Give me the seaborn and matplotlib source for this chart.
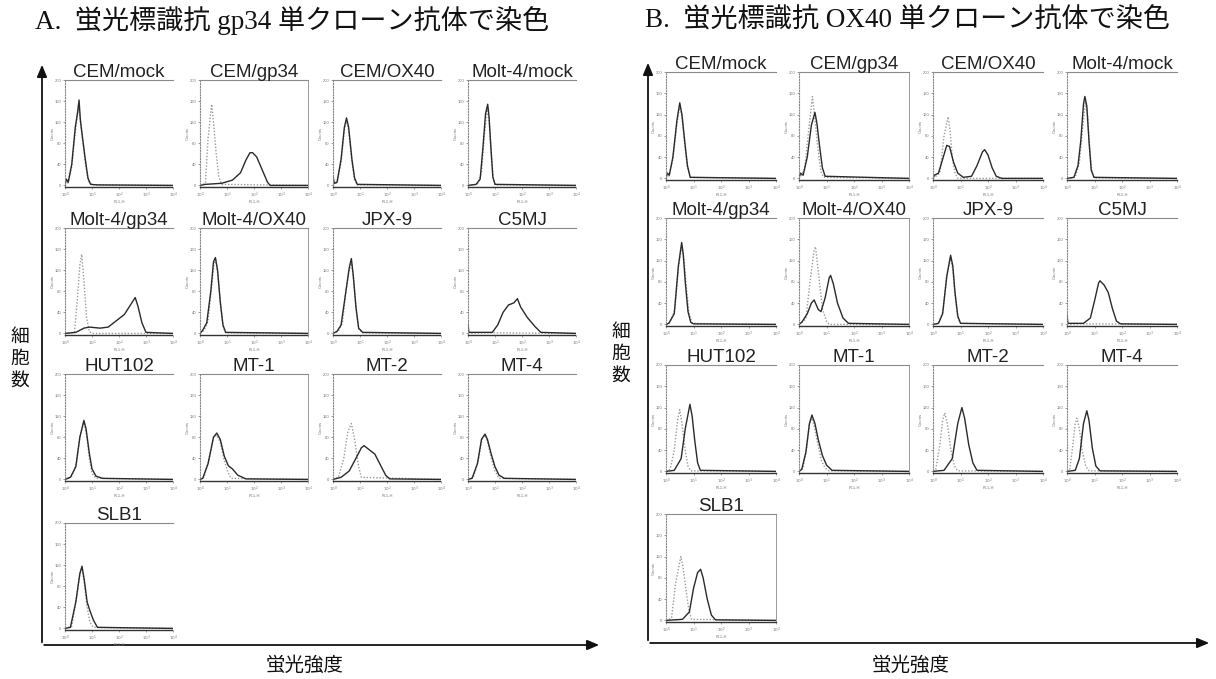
import matplotlib
matplotlib.use("Agg")
import matplotlib.pyplot as plt
import seaborn as sns
import pandas as pd

sns.set_theme(style="white")
plt.rcParams['font.family'] = ['Liberation Sans', 'Noto Sans CJK JP', 'DejaVu Sans']

# ---------------- data (x = log10 fluorescence, y = % of axis height) ----------------
titles = ["CEM/mock", "CEM/gp34", "CEM/OX40", "Molt-4/mock",
          "Molt-4/gp34", "Molt-4/OX40", "JPX-9", "C5MJ",
          "HUT102", "MT-1", "MT-2", "MT-4", "SLB1"]

panel_titles = ["A.  蛍光標識抗 gp34 単クローン抗体で染色",
                "B.  蛍光標識抗 OX40 単クローン抗体で染色"]
y_label = "細\n胞\n数"
x_label = "蛍光強度"
x_tick_labels = ["$10^0$", "$10^1$", "$10^2$", "$10^3$", "$10^4$"]
y_tick_labels = ["0", "40", "80", "120", "160", "200"]

a_stained = [
    [(0, 0), (0.05, 6), (0.12, 3), (0.25, 20), (0.38, 55), (0.47, 70), (0.52, 81), (0.57, 62), (0.65, 45), (0.75, 25), (0.85, 7), (0.95, 1), (1.2, 0.5), (4, 0)],
    [(0, 0), (0.2, 1), (0.8, 2), (1.2, 5), (1.5, 12), (1.7, 24), (1.85, 31), (1.95, 31), (2.1, 27), (2.3, 15), (2.5, 3), (2.6, 0), (4, 0)],
    [(0, 8), (0.05, 2), (0.15, 3), (0.3, 25), (0.42, 55), (0.5, 64), (0.58, 55), (0.7, 25), (0.8, 7), (0.9, 1), (4, 0)],
    [(0, 0), (0.3, 1), (0.45, 6), (0.55, 35), (0.65, 68), (0.73, 77), (0.78, 65), (0.85, 35), (0.92, 8), (1.0, 1), (4, 0)],
    [(0, 0), (0.4, 1), (0.7, 5), (0.9, 6), (1.3, 5), (1.6, 6), (1.9, 12), (2.2, 18), (2.45, 28), (2.6, 34), (2.7, 26), (2.85, 10), (3.0, 1), (4, 0)],
    [(0, 0), (0.1, 3), (0.25, 10), (0.4, 40), (0.5, 68), (0.57, 72), (0.65, 60), (0.75, 30), (0.85, 8), (0.95, 1), (4, 0)],
    [(0, 0), (0.15, 2), (0.3, 8), (0.45, 35), (0.6, 62), (0.68, 71), (0.75, 55), (0.85, 25), (0.95, 5), (1.1, 1), (4, 0)],
    [(0, 10), (0.03, 1), (0.9, 1), (1.1, 8), (1.3, 20), (1.5, 27), (1.7, 29), (1.83, 33), (1.95, 25), (2.2, 15), (2.5, 6), (2.7, 1), (4, 0)],
    [(0, 0), (0.2, 2), (0.4, 12), (0.55, 40), (0.7, 56), (0.78, 48), (0.9, 25), (1.0, 10), (1.15, 3), (1.4, 1), (4, 0)],
    [(0, 0), (0.1, 1), (0.3, 15), (0.5, 40), (0.62, 44), (0.75, 38), (0.9, 22), (1.05, 13), (1.2, 10), (1.4, 4), (1.7, 0.5), (4, 0)],
    [(0, 0), (0.3, 2), (0.6, 8), (0.85, 20), (1.05, 30), (1.15, 32), (1.35, 28), (1.55, 24), (1.75, 14), (1.95, 4), (2.1, 0.5), (4, 0)],
    [(0, 0), (0.15, 1), (0.35, 15), (0.5, 38), (0.63, 43), (0.72, 38), (0.85, 25), (1.0, 12), (1.15, 4), (1.35, 1), (4, 0)],
    [(0, 0), (0.2, 1), (0.4, 25), (0.55, 52), (0.63, 59), (0.72, 45), (0.82, 25), (0.92, 17), (1.05, 8), (1.2, 1), (4, 0)],
]
a_control = [
    [(0, 0), (0.1, 2), (0.25, 18), (0.38, 50), (0.5, 75), (0.57, 60), (0.67, 40), (0.77, 18), (0.87, 4), (1.0, 0.5), (4, 0)],
    [(0, 0), (0.2, 2), (0.3, 45), (0.43, 77), (0.5, 60), (0.6, 30), (0.7, 8), (0.8, 1), (4, 0)],
    [(0, 0), (0.15, 3), (0.3, 22), (0.42, 52), (0.5, 62), (0.58, 52), (0.7, 22), (0.8, 5), (0.9, 0.5), (4, 0)],
    [(0, 0), (0.35, 1), (0.5, 12), (0.6, 45), (0.7, 72), (0.78, 62), (0.86, 30), (0.94, 6), (1.02, 0.5), (4, 0)],
    [(0, 0), (0.35, 1), (0.45, 30), (0.55, 65), (0.62, 75), (0.7, 50), (0.8, 15), (0.9, 2), (1.0, 0), (4, 0)],
    [(0, 0), (0.15, 3), (0.3, 12), (0.42, 42), (0.52, 66), (0.58, 70), (0.66, 56), (0.76, 28), (0.86, 6), (0.95, 0.5), (4, 0)],
    [(0, 0), (0.2, 2), (0.35, 10), (0.48, 40), (0.6, 60), (0.68, 68), (0.76, 52), (0.86, 22), (0.95, 4), (1.1, 0.5), (4, 0)],
    [(0, 0), (0.5, 0.5), (1.0, 0.5), (4, 0)],
    [(0, 0), (0.25, 3), (0.42, 15), (0.56, 42), (0.7, 54), (0.8, 42), (0.9, 20), (1.0, 6), (1.15, 1), (4, 0)],
    [(0, 0), (0.15, 2), (0.32, 18), (0.5, 40), (0.62, 42), (0.75, 35), (0.9, 18), (1.05, 6), (1.15, 1), (4, 0)],
    [(0, 0), (0.2, 2), (0.4, 20), (0.55, 45), (0.68, 53), (0.8, 38), (0.95, 12), (1.05, 2), (4, 0)],
    [(0, 0), (0.2, 2), (0.38, 18), (0.52, 38), (0.63, 42), (0.73, 35), (0.86, 20), (1.0, 8), (1.15, 1), (4, 0)],
    [(0, 0), (0.25, 2), (0.42, 28), (0.55, 52), (0.63, 57), (0.72, 42), (0.82, 20), (0.92, 6), (1.05, 1), (4, 0)],
]

b_stained = [
    [(0, 0), (0.05, 5), (0.12, 3), (0.25, 20), (0.4, 55), (0.5, 71), (0.58, 60), (0.68, 35), (0.78, 12), (0.88, 1), (4, 0)],
    [(0, 0), (0.05, 5), (0.15, 3), (0.3, 20), (0.45, 50), (0.58, 62), (0.65, 52), (0.75, 30), (0.85, 10), (0.95, 2), (4, 0)],
    [(0, 0), (0.05, 3), (0.2, 5), (0.35, 18), (0.5, 31), (0.6, 30), (0.75, 15), (0.9, 5), (1.1, 1), (1.4, 2), (1.6, 12), (1.8, 25), (1.88, 27), (2.0, 22), (2.15, 10), (2.3, 2), (2.5, 0), (4, 0)],
    [(0, 0), (0.25, 1), (0.4, 12), (0.5, 35), (0.6, 70), (0.65, 77), (0.72, 68), (0.8, 35), (0.88, 8), (0.98, 1), (4, 0)],
    [(0, 0), (0.1, 1), (0.3, 10), (0.45, 55), (0.57, 77), (0.63, 65), (0.7, 40), (0.8, 12), (0.9, 2), (1.0, 0.5), (4, 0)],
    [(0, 0), (0.1, 2), (0.3, 10), (0.45, 20), (0.55, 23), (0.7, 14), (0.8, 12), (0.95, 25), (1.1, 44), (1.15, 46), (1.25, 38), (1.4, 20), (1.6, 6), (1.8, 1), (4, 0)],
    [(0, 0), (0.2, 1), (0.35, 10), (0.5, 45), (0.64, 65), (0.72, 55), (0.8, 30), (0.9, 8), (1.0, 1), (4, 0)],
    [(0, 10), (0.03, 1), (0.6, 1), (0.85, 6), (1.0, 22), (1.15, 39), (1.2, 41), (1.35, 37), (1.5, 30), (1.65, 15), (1.8, 3), (1.95, 0.5), (4, 0)],
    [(0, 0), (0.3, 1), (0.55, 12), (0.7, 40), (0.87, 63), (0.95, 52), (1.05, 28), (1.15, 8), (1.25, 1), (4, 0)],
    [(0, 0), (0.1, 2), (0.25, 18), (0.38, 45), (0.47, 53), (0.58, 45), (0.7, 30), (0.85, 15), (1.0, 6), (1.2, 1), (4, 0)],
    [(0, 0), (0.4, 1), (0.7, 12), (0.9, 45), (1.05, 60), (1.15, 50), (1.3, 25), (1.45, 8), (1.6, 1), (4, 0)],
    [(0, 0), (0.3, 1), (0.45, 12), (0.6, 45), (0.72, 57), (0.8, 48), (0.92, 22), (1.05, 5), (1.2, 0.5), (4, 0)],
    [(0, 0), (0.6, 1), (0.85, 8), (1.0, 30), (1.15, 45), (1.26, 48), (1.35, 40), (1.5, 20), (1.65, 5), (1.8, 0.5), (4, 0)],
]
b_control = [
    [(0, 0), (0.1, 2), (0.25, 18), (0.4, 52), (0.5, 68), (0.58, 58), (0.68, 32), (0.78, 10), (0.88, 1), (4, 0)],
    [(0, 0), (0.2, 8), (0.35, 45), (0.49, 77), (0.58, 55), (0.7, 25), (0.8, 6), (0.9, 1), (4, 0)],
    [(0, 0), (0.25, 5), (0.4, 40), (0.55, 58), (0.62, 45), (0.7, 20), (0.8, 5), (0.9, 0), (4, 0)],
    [(0, 0), (0.3, 1), (0.45, 15), (0.55, 42), (0.67, 72), (0.74, 62), (0.82, 30), (0.9, 6), (1.0, 0.5), (4, 0)],
    [(0, 0), (0.15, 2), (0.32, 14), (0.46, 55), (0.58, 74), (0.66, 60), (0.74, 35), (0.84, 10), (0.95, 1), (4, 0)],
    [(0, 0), (0.25, 5), (0.4, 40), (0.55, 70), (0.6, 73), (0.7, 50), (0.85, 15), (1.0, 3), (1.1, 0), (4, 0)],
    [(0, 0), (0.2, 1), (0.36, 12), (0.5, 46), (0.63, 62), (0.72, 52), (0.8, 28), (0.9, 7), (1.0, 1), (4, 0)],
    [(0, 0), (0.5, 0.5), (1.0, 0.5), (4, 0)],
    [(0, 0), (0.15, 2), (0.3, 20), (0.42, 48), (0.5, 58), (0.58, 45), (0.7, 20), (0.8, 5), (0.9, 0.5), (4, 0)],
    [(0, 0), (0.15, 3), (0.28, 22), (0.38, 45), (0.47, 50), (0.56, 42), (0.68, 26), (0.82, 10), (0.95, 3), (1.1, 0.5), (4, 0)],
    [(0, 0), (0.1, 2), (0.25, 25), (0.35, 48), (0.43, 55), (0.52, 45), (0.65, 20), (0.78, 5), (0.9, 0.5), (4, 0)],
    [(0, 0), (0.1, 2), (0.2, 22), (0.3, 45), (0.36, 50), (0.45, 40), (0.55, 20), (0.68, 5), (0.8, 0.5), (4, 0)],
    [(0, 0), (0.2, 2), (0.35, 35), (0.54, 60), (0.62, 50), (0.72, 30), (0.83, 10), (0.93, 1), (4, 0)],
]

a_right_spine = [False, True, False, False, False, True, False, False, False, True, False, False, False]
b_right_spine = [False, True, False, False, False, True, False, False, False, True, False, False, True]

# ---------------- layout (pixels) ----------------
W, H = 1216, 679
fig = plt.figure(figsize=(W / 100, H / 100), dpi=100)
fig.patch.set_facecolor("white")


def px_axes(left, top, width, height):
    return fig.add_axes([left / W, 1 - (top + height) / H, width / W, height / H])


panels = [
    dict(stained=a_stained, control=a_control, right=a_right_spine,
         lefts=[65, 200, 333, 468], tops=[80, 228, 374, 523], w=108, h=107),
    dict(stained=b_stained, control=b_control, right=b_right_spine,
         lefts=[666, 799, 933, 1067], tops=[72, 218, 365, 514], w=110, h=108),
]

for p in panels:
    for i, name in enumerate(titles):
        r, c = divmod(i, 4)
        ax = px_axes(p["lefts"][c], p["tops"][r], p["w"], p["h"])
        ctrl = pd.DataFrame(p["control"][i], columns=["x", "y"])
        stn = pd.DataFrame(p["stained"][i], columns=["x", "y"])
        sns.lineplot(data=ctrl, x="x", y="y", ax=ax, color="#9a9a9a", linewidth=1.0,
                     linestyle=(0, (1, 1.3)), estimator=None, sort=False)
        sns.lineplot(data=stn, x="x", y="y", ax=ax, color="#2a2a2a", linewidth=1.0,
                     estimator=None, sort=False)
        ax.set_xlim(0, 4)
        ax.set_ylim(-1.5, 100)
        ax.set_xticks([0, 1, 2, 3, 4])
        ax.set_xticklabels(x_tick_labels)
        ax.set_yticks([0, 20, 40, 60, 80, 100])
        ax.set_yticklabels(y_tick_labels)
        ax.tick_params(axis="both", labelsize=3, length=1.5, width=0.5, pad=1,
                       colors="#777777", left=True, bottom=True)
        ax.set_xlabel("FL1-H", fontsize=3, labelpad=0, color="#777777")
        ax.set_ylabel("Counts", fontsize=3, labelpad=0, color="#777777")
        ax.set_title(name, fontsize=13.5, pad=2.5, color="#222222")
        ax.set_facecolor("white")
        ax.spines["left"].set_linestyle((0, (1, 1.5)))
        ax.spines["left"].set_color("#888888")
        ax.spines["left"].set_linewidth(0.8)
        ax.spines["bottom"].set_linestyle((0, (2, 1)))
        ax.spines["bottom"].set_color("#333333")
        ax.spines["bottom"].set_linewidth(1.0)
        ax.spines["top"].set_color("#8a8a8a")
        ax.spines["top"].set_linewidth(0.8)
        ax.spines["right"].set_visible(p["right"][i])
        ax.spines["right"].set_color("#9a9a9a")
        ax.spines["right"].set_linewidth(0.7)

# ---------------- overall frame, arrows, labels ----------------
ov = fig.add_axes([0, 0, 1, 1], zorder=-1)
ov.set_xlim(0, W)
ov.set_ylim(H, 0)
ov.axis("off")

arrow_kw = dict(arrowstyle="-|>,head_length=0.6,head_width=0.25", color="#111111", lw=1.3)
for x0, y0, x1, ytop in [(42, 645, 602, 62), (648, 643, 1212, 60)]:
    ov.annotate("", xy=(x0, ytop), xytext=(x0, y0), arrowprops=arrow_kw)
    ov.annotate("", xy=(x1, y0), xytext=(x0 - 0.6, y0), arrowprops=arrow_kw)

serif_cjk = ['Liberation Serif', 'Noto Sans CJK JP']
fig.text(35 / W, 1 - 21 / H, panel_titles[0], fontsize=19.5, family=serif_cjk,
         ha="left", va="center", color="#111111")
fig.text(645 / W, 1 - 21 / H, panel_titles[1], fontsize=19.5, family=serif_cjk,
         ha="left", va="center", color="#111111")

for xx, yy in [(20, 358), (621, 353)]:
    fig.text(xx / W, 1 - yy / H, y_label, fontsize=13.5, ha="center", va="center",
             linespacing=1.05, family=['Noto Sans CJK JP'], color="#111111")
for xx in [305, 911]:
    fig.text(xx / W, 1 - 665 / H, x_label, fontsize=14, ha="center", va="center",
             family=['Noto Sans CJK JP'], color="#111111")

fig.savefig("out.png", dpi=100, facecolor="white")
